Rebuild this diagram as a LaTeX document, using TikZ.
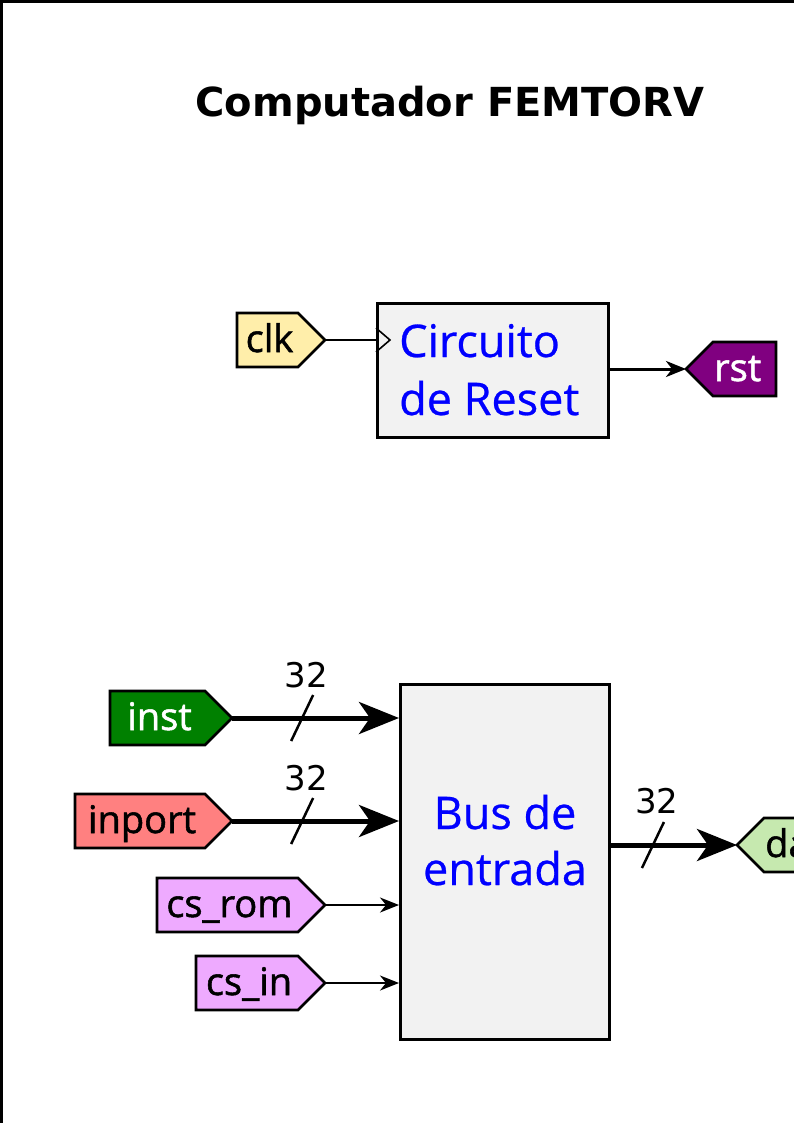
\documentclass[tikz,border=0pt]{standalone}
\usepackage{fontspec}
\setmainfont{Open Sans}[FakeBold=0.6]
\newfontfamily\tagfont{Open Sans}[FakeBold=1.4]
\newfontfamily\titlefont{DejaVu Sans}
\usetikzlibrary{arrows.meta,calc}
\definecolor{boxgray}{HTML}{F2F2F2}
\definecolor{clkfill}{HTML}{FFEEAA}
\definecolor{instfill}{HTML}{008000}
\definecolor{inportfill}{HTML}{FF8080}
\definecolor{csfill}{HTML}{EEAAFF}
\definecolor{rstfill}{HTML}{800080}
\definecolor{datafill}{HTML}{C6E9AF}
\definecolor{txtblue}{HTML}{0000FF}
\tikzset{
  tagline/.style={draw=black,line width=2.6,line join=miter},
  tagtext/.style={inner sep=0pt,font=\tagfont\fontsize{38}{46}\selectfont},
  blk/.style={draw=black,fill=boxgray,line width=3,inner sep=0pt},
  blktext/.style={inner sep=0pt,text=txtblue,font=\fontsize{45}{54}\selectfont},
  buswidth/.style={inner sep=0pt,font=\titlefont\fontsize{34}{40}\selectfont},
  thinwire/.style={line width=1.6},
  midwire/.style={line width=3,-{Stealth[length=20,width=16,inset=6]}},
  smallwire/.style={line width=2,-{Stealth[length=19,width=15,inset=6]}},
  buswire/.style={line width=5,-{Stealth[length=40,width=32,inset=11]}},
  slashline/.style={line width=2.5},
}
% right-pointing tag: name, left x, tip x, centre y, fill, text colour, text
\newcommand\rtag[7]{%
  \draw[tagline,fill=#5] (#2,#4-27) -- (#3-27,#4-27) -- (#3,#4) -- (#3-27,#4+27) -- (#2,#4+27) -- cycle;
  \node[tagtext,text=#6,anchor=base] (#1) at ({(#2+#3-27)/2+2},#4+12) {#7};
  \coordinate (#1tip) at (#3,#4);
}
% left-pointing tag: name, tip x, right x, centre y, fill, text colour, text
\newcommand\ltag[7]{%
  \draw[tagline,fill=#5] (#3,#4-27) -- (#2+27,#4-27) -- (#2,#4) -- (#2+27,#4+27) -- (#3,#4+27) -- cycle;
  \node[tagtext,text=#6,anchor=base west] (#1) at (#2+28,#4+12) {#7};
  \coordinate (#1tip) at (#2,#4);
}
\begin{document}
\begin{tikzpicture}[x=1pt,y=-1pt]
\useasboundingbox (0,0) rectangle (794,1123);
\clip (0,0) rectangle (794,1123);
\fill[white] (0,0) rectangle (794,1123);
\draw[line width=3] (1.5,1130) -- (1.5,1.5) -- (800,1.5);

% title
\node[inner sep=0pt,anchor=base,font=\titlefont\bfseries\fontsize{40}{48}\selectfont] (title) at (450,117) {Computador FEMTORV};

% reset circuit
\node[blk,anchor=north west,minimum width=231,minimum height=134] (reset) at (376,302) {};
\node[blktext,anchor=base west] (resetA) at (399,357) {Circuito};
\node[blktext,anchor=base west] (resetB) at (399,415) {de Reset};

\rtag{clk}{237}{325}{340}{clkfill}{black}{clk}
\ltag{rst}{686}{776}{369}{rstfill}{white}{rst}

\draw[thinwire] (clktip) -- (reset.west |- clktip);
\draw[thinwire] ($(reset.west |- clktip)+(0,-12)$) -- ++(14,12) -- ++(-14,12);
\draw[midwire] (reset.east |- rsttip) -- (rsttip);

% input bus
\node[blk,anchor=north west,minimum width=209,minimum height=355] (bus) at (399,683) {};
\node[blktext,anchor=base] (busA) at (505,829) {Bus de};
\node[blktext,anchor=base] (busB) at (505,885) {entrada};

\rtag{inst}{110}{232}{718}{instfill}{white}{inst}
\rtag{inport}{75}{232}{821}{inportfill}{black}{inport}
\rtag{csrom}{157}{325}{905}{csfill}{black}{cs\_rom}
\rtag{csin}{196}{325}{983}{csfill}{black}{cs\_in}
\ltag{data}{737}{900}{845}{datafill}{black}{data}

\draw[buswire] (insttip) -- (bus.west |- insttip);
\draw[buswire] (inporttip) -- (bus.west |- inporttip);
\draw[smallwire] (csromtip) -- (bus.west |- csromtip);
\draw[smallwire] (csintip) -- (bus.west |- csintip);
\draw[buswire] (bus.east |- datatip) -- (datatip);

% width marks
\coordinate (s1) at ($(insttip)!0.42!(bus.west |- insttip)$);
\coordinate (s2) at ($(inporttip)!0.42!(bus.west |- inporttip)$);
\coordinate (s3) at ($(bus.east |- datatip)!0.333!(datatip)$);
\draw[slashline] ($(s1)+(-11,23)$) -- ++(22,-46);
\draw[slashline] ($(s2)+(-11,23)$) -- ++(22,-46);
\draw[slashline] ($(s3)+(-11,23)$) -- ++(22,-46);
\node[buswidth,anchor=base] (w1) at ($(s1)+(4,-31)$) {32};
\node[buswidth,anchor=base] (w2) at ($(s2)+(4,-31)$) {32};
\node[buswidth,anchor=base] (w3) at ($(s3)+(4,-32)$) {32};
\end{tikzpicture}
\end{document}
